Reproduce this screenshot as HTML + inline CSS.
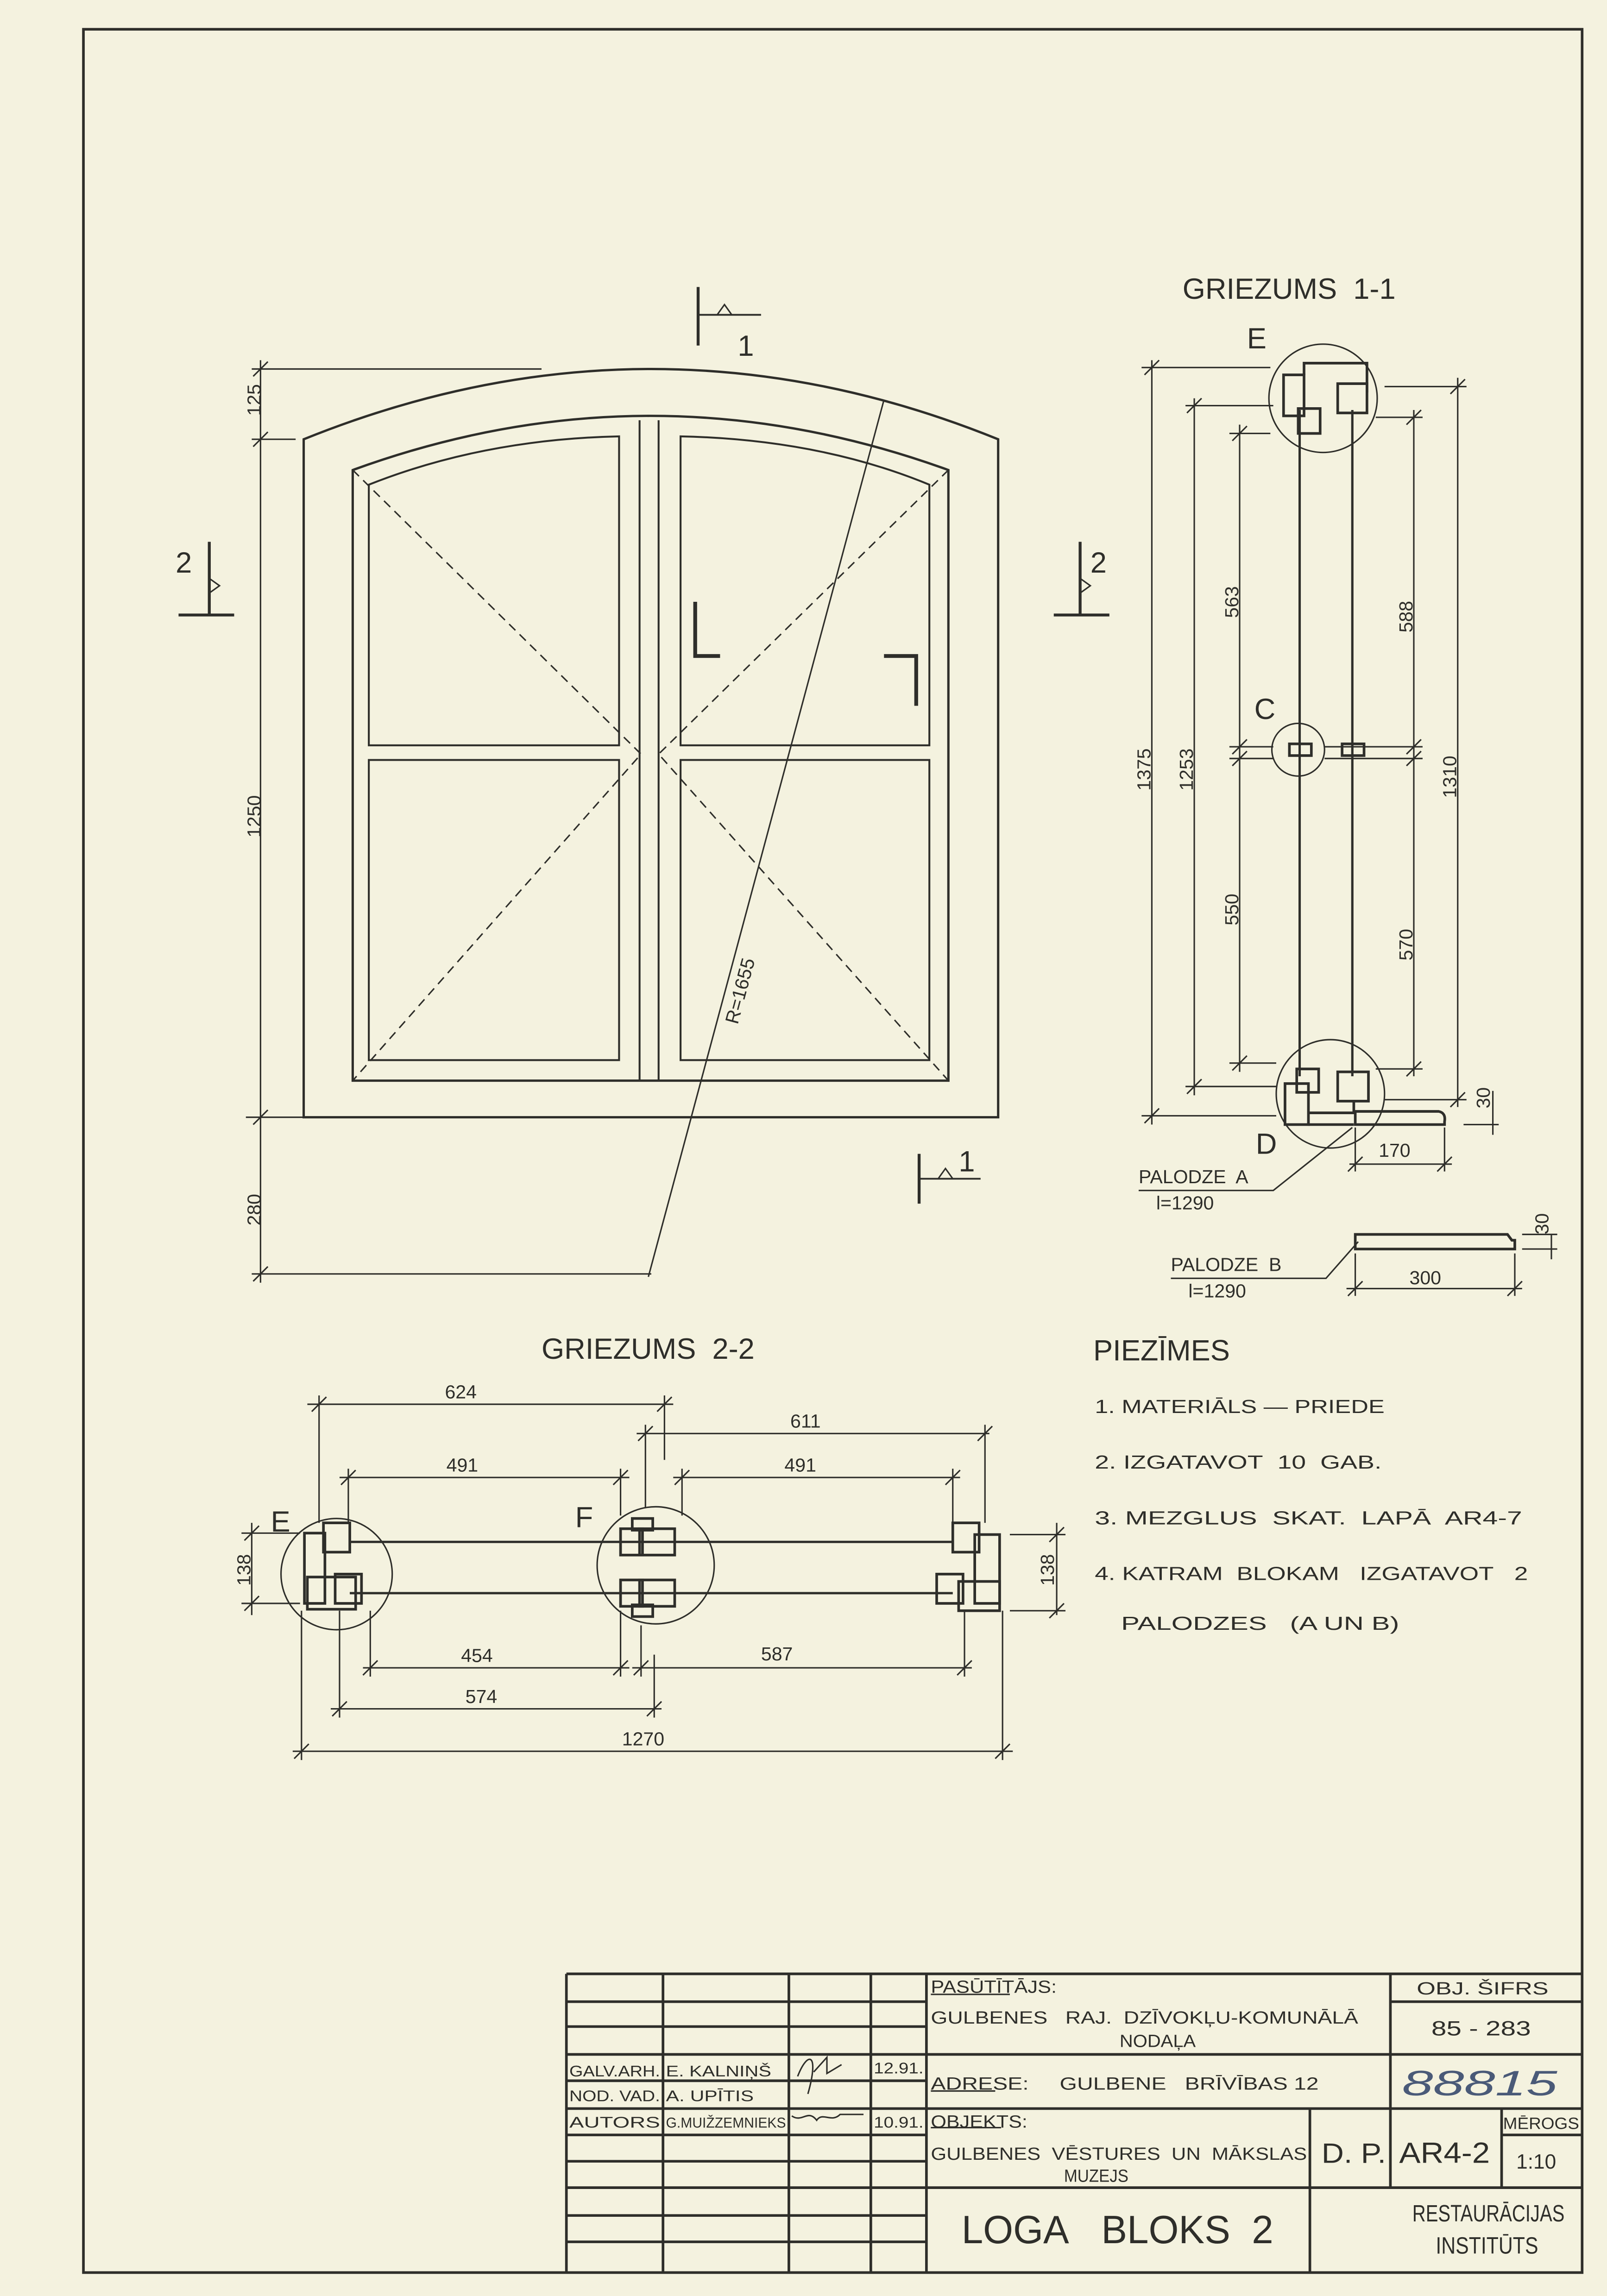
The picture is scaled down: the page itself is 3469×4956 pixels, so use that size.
<!DOCTYPE html>
<html><head><meta charset="utf-8"><style>
html,body{margin:0;padding:0;background:#f4f2df;}
svg{display:block}
text{font-family:"Liberation Sans",sans-serif;fill:#2e2e2a}
</style></head><body>
<svg width="3469" height="4956" viewBox="0 0 1098 1568" preserveAspectRatio="none" xmlns="http://www.w3.org/2000/svg">
<rect x="0" y="0" width="1098" height="1568" fill="#f4f2df"/>
<g stroke="#2e2e2a" fill="none" stroke-width="1.3">
<rect x="57" y="20" width="1024" height="1532" stroke-width="1.8"/>

<path d="M207.5 763 V300 Q445 204 682 300 V763 Z" stroke-width="1.6"/>
<path d="M241 738 V321 Q444 247 648 321 V738 Z" stroke-width="1.6"/>
<line x1="437" y1="287" x2="437" y2="738"/>
<line x1="450" y1="287" x2="450" y2="738"/>
<path d="M252 509 V331 Q330 300 423 298 V509 Z"/>
<path d="M252 724 V519 H423 V724 Z"/>
<path d="M465 509 V298 Q560 300 635 331 V509 Z"/>
<path d="M465 724 V519 H635 V724 Z"/>
<g stroke-dasharray="6,4" stroke-width="1">
<polyline points="241,321 438,515 241,738"/>
<polyline points="648,321 450,515 648,738"/>
</g>
<line x1="604" y1="273" x2="443" y2="872" stroke-width="1"/>
<polyline points="475,411 475,448 492,448" stroke-width="2.6"/>
<polyline points="604,448 626,448 626,482" stroke-width="2.6"/>
<line x1="178" y1="246" x2="178" y2="876" stroke-width="1"/>
<line x1="172" y1="252" x2="370" y2="252" stroke-width="1"/>
<line x1="172" y1="300" x2="202" y2="300" stroke-width="1"/>
<line x1="168" y1="763" x2="207" y2="763" stroke-width="1"/>
<line x1="172" y1="870" x2="445" y2="870" stroke-width="1"/>
<g stroke-width="1"><line x1="173" y1="257" x2="183" y2="247"/><line x1="173" y1="305" x2="183" y2="295"/><line x1="173" y1="768" x2="183" y2="758"/><line x1="173" y1="875" x2="183" y2="865"/></g>
<g stroke-width="2">
<line x1="477" y1="196" x2="477" y2="236"/><line x1="477" y1="215" x2="520" y2="215" stroke-width="1.2"/>
<line x1="143" y1="370" x2="143" y2="420"/><line x1="122" y1="420" x2="160" y2="420"/>
<line x1="738" y1="370" x2="738" y2="420"/><line x1="720" y1="420" x2="758" y2="420"/>
<line x1="628" y1="788" x2="628" y2="822"/><line x1="628" y1="805" x2="670" y2="805" stroke-width="1.2"/>
</g>
<g stroke-width="1"><path d="M495 208 L500 215 L490 215 Z" /><path d="M143 395 L150 400 L143 405" /><path d="M738 395 L745 400 L738 405"/><path d="M646 798 L651 805 L641 805Z"/></g>

<line x1="888" y1="280" x2="888" y2="735" stroke-width="1.6"/>
<line x1="924" y1="280" x2="924" y2="735" stroke-width="1.6"/>
<circle cx="904" cy="272" r="37" stroke-width="1"/>
<circle cx="887" cy="512" r="18" stroke-width="1"/>
<circle cx="909" cy="747" r="37" stroke-width="1"/>
<g stroke-width="1.8">
<rect x="877" y="256" width="14" height="28"/><rect x="887" y="279" width="15" height="17"/>
<polyline points="891,256 891,248 934,248 934,268"/><rect x="914" y="262" width="20" height="20"/>
<rect x="881" y="508" width="15" height="8"/><rect x="917" y="508" width="15" height="8"/>
<rect x="886" y="730" width="15" height="16"/><rect x="878" y="740" width="16" height="28"/>
<polyline points="894,760 925,760 925,752"/><polyline points="894,768 925,768"/>
<rect x="914" y="732" width="21" height="20"/>
<path d="M926 759 H983 Q988 760 987 766 V768 H926 Z"/>
<path d="M926 843 H1030 L1033 847 H1035 V853 H926 Z"/>
</g>
<g stroke-width="1">
<line x1="787" y1="246" x2="787" y2="768"/><line x1="780" y1="251" x2="868" y2="251"/><line x1="780" y1="762" x2="872" y2="762"/>
<line x1="816" y1="272" x2="816" y2="748"/><line x1="810" y1="277" x2="870" y2="277"/><line x1="810" y1="742" x2="872" y2="742"/>
<line x1="847" y1="290" x2="847" y2="732"/><line x1="840" y1="296" x2="868" y2="296"/><line x1="840" y1="510" x2="870" y2="510"/><line x1="840" y1="518" x2="870" y2="518"/><line x1="840" y1="726" x2="872" y2="726"/>
<line x1="966" y1="280" x2="966" y2="735"/><line x1="940" y1="285" x2="972" y2="285"/><line x1="905" y1="510" x2="972" y2="510"/><line x1="905" y1="518" x2="972" y2="518"/><line x1="940" y1="730" x2="972" y2="730"/>
<line x1="996" y1="258" x2="996" y2="756"/><line x1="946" y1="264" x2="1002" y2="264"/><line x1="946" y1="751" x2="1002" y2="751"/>
<line x1="1020" y1="745" x2="1020" y2="775"/><line x1="1000" y1="768" x2="1024" y2="768"/>
<line x1="926" y1="770" x2="926" y2="800"/><line x1="987" y1="770" x2="987" y2="800"/><line x1="922" y1="795" x2="992" y2="795"/>
<line x1="920" y1="880" x2="1040" y2="880"/><line x1="926" y1="856" x2="926" y2="885"/><line x1="1035" y1="856" x2="1035" y2="885"/>
<line x1="1060" y1="843" x2="1060" y2="860"/><line x1="1040" y1="843" x2="1064" y2="843"/><line x1="1040" y1="853" x2="1064" y2="853"/>
<polyline points="778,813 870,813 924,770"/>
<polyline points="800,873 906,873 928,848"/>
</g>
<g stroke-width="1"><line x1="782" y1="256" x2="792" y2="246"/><line x1="782" y1="767" x2="792" y2="757"/><line x1="811" y1="282" x2="821" y2="272"/><line x1="811" y1="747" x2="821" y2="737"/><line x1="842" y1="301" x2="852" y2="291"/><line x1="842" y1="515" x2="852" y2="505"/><line x1="842" y1="523" x2="852" y2="513"/><line x1="842" y1="731" x2="852" y2="721"/><line x1="961" y1="290" x2="971" y2="280"/><line x1="961" y1="515" x2="971" y2="505"/><line x1="961" y1="523" x2="971" y2="513"/><line x1="961" y1="735" x2="971" y2="725"/><line x1="991" y1="269" x2="1001" y2="259"/><line x1="991" y1="756" x2="1001" y2="746"/><line x1="921" y1="800" x2="931" y2="790"/><line x1="982" y1="800" x2="992" y2="790"/><line x1="921" y1="885" x2="931" y2="875"/><line x1="1030" y1="885" x2="1040" y2="875"/></g>

<line x1="239" y1="1053" x2="651" y2="1053" stroke-width="1.6"/>
<line x1="239" y1="1088" x2="651" y2="1088" stroke-width="1.6"/>
<circle cx="230" cy="1075" r="38" stroke-width="1"/>
<circle cx="448" cy="1069" r="40" stroke-width="1"/>
<g stroke-width="1.8">
<rect x="208" y="1047" width="14" height="48"/><rect x="221" y="1040" width="18" height="20"/><rect x="210" y="1077" width="33" height="22"/><rect x="229" y="1075" width="18" height="20"/>
<rect x="424" y="1044" width="15" height="18"/><rect x="437" y="1044" width="24" height="18"/><rect x="432" y="1037" width="14" height="8"/>
<rect x="424" y="1079" width="15" height="18"/><rect x="437" y="1079" width="24" height="18"/><rect x="432" y="1096" width="14" height="8"/>
<rect x="651" y="1040" width="18" height="20"/><rect x="666" y="1048" width="17" height="47"/><rect x="640" y="1075" width="18" height="20"/><rect x="655" y="1080" width="28" height="20"/>
</g>
<g stroke-width="1">
<line x1="210" y1="959" x2="460" y2="959"/><line x1="218" y1="953" x2="218" y2="1040"/><line x1="454" y1="953" x2="454" y2="997"/>
<line x1="435" y1="979" x2="676" y2="979"/><line x1="441" y1="973" x2="441" y2="1030"/><line x1="673" y1="973" x2="673" y2="1040"/>
<line x1="232" y1="1009" x2="430" y2="1009"/><line x1="238" y1="1003" x2="238" y2="1040"/><line x1="424" y1="1003" x2="424" y2="1035"/>
<line x1="460" y1="1009" x2="656" y2="1009"/><line x1="466" y1="1003" x2="466" y2="1035"/><line x1="651" y1="1003" x2="651" y2="1040"/>
<line x1="248" y1="1139" x2="430" y2="1139"/><line x1="253" y1="1100" x2="253" y2="1145"/><line x1="424" y1="1100" x2="424" y2="1145"/>
<line x1="432" y1="1139" x2="664" y2="1139"/><line x1="438" y1="1110" x2="438" y2="1145"/><line x1="659" y1="1100" x2="659" y2="1145"/>
<line x1="226" y1="1167" x2="452" y2="1167"/><line x1="232" y1="1100" x2="232" y2="1173"/><line x1="447" y1="1130" x2="447" y2="1173"/>
<line x1="200" y1="1196" x2="692" y2="1196"/><line x1="206" y1="1100" x2="206" y2="1202"/><line x1="685" y1="1100" x2="685" y2="1202"/>
<line x1="172" y1="1040" x2="172" y2="1103"/><line x1="165" y1="1047" x2="205" y2="1047"/><line x1="165" y1="1095" x2="205" y2="1095"/>
<line x1="722" y1="1040" x2="722" y2="1103"/><line x1="690" y1="1048" x2="728" y2="1048"/><line x1="690" y1="1100" x2="728" y2="1100"/>
</g>
<g stroke-width="1"><line x1="213" y1="964" x2="223" y2="954"/><line x1="449" y1="964" x2="459" y2="954"/><line x1="436" y1="984" x2="446" y2="974"/><line x1="668" y1="984" x2="678" y2="974"/><line x1="233" y1="1014" x2="243" y2="1004"/><line x1="419" y1="1014" x2="429" y2="1004"/><line x1="461" y1="1014" x2="471" y2="1004"/><line x1="646" y1="1014" x2="656" y2="1004"/><line x1="248" y1="1144" x2="258" y2="1134"/><line x1="419" y1="1144" x2="429" y2="1134"/><line x1="433" y1="1144" x2="443" y2="1134"/><line x1="654" y1="1144" x2="664" y2="1134"/><line x1="227" y1="1172" x2="237" y2="1162"/><line x1="442" y1="1172" x2="452" y2="1162"/><line x1="201" y1="1201" x2="211" y2="1191"/><line x1="680" y1="1201" x2="690" y2="1191"/><line x1="167" y1="1052" x2="177" y2="1042"/><line x1="167" y1="1100" x2="177" y2="1090"/><line x1="717" y1="1053" x2="727" y2="1043"/><line x1="717" y1="1105" x2="727" y2="1095"/></g>

<g stroke-width="1.8">
<line x1="387" y1="1348" x2="1081" y2="1348"/>
<line x1="387" y1="1348" x2="387" y2="1552"/>
<line x1="453" y1="1348" x2="453" y2="1552"/><line x1="539" y1="1348" x2="539" y2="1552"/><line x1="595" y1="1348" x2="595" y2="1552"/><line x1="633" y1="1348" x2="633" y2="1552"/>
<line x1="387" y1="1367" x2="633" y2="1367"/><line x1="387" y1="1384" x2="633" y2="1384"/><line x1="387" y1="1403" x2="1081" y2="1403"/><line x1="387" y1="1421" x2="633" y2="1421"/><line x1="387" y1="1440" x2="1081" y2="1440"/><line x1="387" y1="1458" x2="633" y2="1458"/><line x1="387" y1="1476" x2="633" y2="1476"/><line x1="387" y1="1494" x2="1081" y2="1494"/><line x1="387" y1="1513" x2="633" y2="1513"/><line x1="387" y1="1531" x2="633" y2="1531"/>
<line x1="950" y1="1348" x2="950" y2="1494"/><line x1="950" y1="1367" x2="1081" y2="1367"/>
<line x1="895" y1="1440" x2="895" y2="1552"/><line x1="1026" y1="1440" x2="1026" y2="1494"/><line x1="1026" y1="1458" x2="1081" y2="1458"/>
</g>
<g stroke-width="1"><line x1="636" y1="1362" x2="690" y2="1362"/><line x1="636" y1="1428" x2="680" y2="1428"/><line x1="636" y1="1453" x2="684" y2="1453"/></g>
<path d="M545 1418 C552 1400 560 1402 552 1430 M556 1415 L565 1405 L565 1416 L575 1410" stroke-width="1"/>
<path d="M541 1445 C548 1450 552 1440 558 1448 C562 1442 568 1450 574 1444 L590 1444" stroke-width="1"/>
</g>

<g font-size="20">
<text x="808" y="204">GRIEZUMS&#160; 1-1</text>
<text x="370" y="928">GRIEZUMS&#160; 2-2</text>
<text x="747" y="929">PIEZĪMES</text>
<text x="852" y="238">E</text><text x="857" y="491">C</text><text x="858" y="788">D</text>
<text x="185" y="1046">E</text><text x="393" y="1043">F</text>
<text x="504" y="243">1</text><text x="120" y="391">2</text><text x="745" y="391">2</text><text x="655" y="800">1</text>
</g>
<g font-size="13">
<text transform="translate(178,284) rotate(-90)">125</text>
<text transform="translate(178,572) rotate(-90)">1250</text>
<text transform="translate(178,837) rotate(-90)">280</text>
<text transform="translate(504,700) rotate(-75)">R=1655</text>
<text transform="translate(786,540) rotate(-90)">1375</text>
<text transform="translate(815,540) rotate(-90)">1253</text>
<text transform="translate(846,422) rotate(-90)">563</text>
<text transform="translate(846,632) rotate(-90)">550</text>
<text transform="translate(965,432) rotate(-90)">588</text>
<text transform="translate(965,656) rotate(-90)">570</text>
<text transform="translate(995,545) rotate(-90)">1310</text>
<text transform="translate(1018,757) rotate(-90)">30</text>
<text transform="translate(1058,843) rotate(-90)">30</text>
<text x="942" y="790">170</text><text x="963" y="877">300</text>
<text x="778" y="808">PALODZE&#160; A</text><text x="790" y="826">l=1290</text>
<text x="800" y="868">PALODZE&#160; B</text><text x="812" y="886">l=1290</text>
<text x="304" y="955">624</text><text x="540" y="975">611</text><text x="305" y="1005">491</text><text x="536" y="1005">491</text>
<text x="315" y="1135">454</text><text x="520" y="1134">587</text><text x="318" y="1163">574</text><text x="425" y="1192">1270</text>
<text transform="translate(171,1083) rotate(-90)">138</text>
<text transform="translate(720,1083) rotate(-90)">138</text>
<text x="748" y="965" textLength="198" lengthAdjust="spacingAndGlyphs">1. MATERIĀLS — PRIEDE</text>
<text x="748" y="1003" textLength="196" lengthAdjust="spacingAndGlyphs">2. IZGATAVOT&#160; 10&#160; GAB.</text>
<text x="748" y="1041" textLength="292" lengthAdjust="spacingAndGlyphs">3. MEZGLUS&#160; SKAT.&#160; LAPĀ&#160; AR4-7</text>
<text x="748" y="1079" textLength="296" lengthAdjust="spacingAndGlyphs">4. KATRAM&#160; BLOKAM&#160;&#160; IZGATAVOT&#160;&#160; 2</text>
<text x="766" y="1113" textLength="190" lengthAdjust="spacingAndGlyphs">PALODZES&#160;&#160; (A UN B)</text>
</g>
<g font-size="12">
<text x="636" y="1361" textLength="86" lengthAdjust="spacingAndGlyphs">PASŪTĪTĀJS:</text>
<text x="636" y="1382" textLength="292" lengthAdjust="spacingAndGlyphs">GULBENES&#160;&#160; RAJ.&#160; DZĪVOKĻU-KOMUNĀLĀ</text>
<text x="765" y="1398" textLength="52" lengthAdjust="spacingAndGlyphs">NODAĻA</text>
<text x="636" y="1427" textLength="265" lengthAdjust="spacingAndGlyphs">ADRESE:&#160;&#160;&#160;&#160; GULBENE&#160;&#160; BRĪVĪBAS 12</text>
<text x="636" y="1453" textLength="66" lengthAdjust="spacingAndGlyphs">OBJEKTS:</text>
<text x="636" y="1475" textLength="257" lengthAdjust="spacingAndGlyphs">GULBENES&#160; VĒSTURES&#160; UN&#160; MĀKSLAS</text>
<text x="727" y="1490" textLength="44" lengthAdjust="spacingAndGlyphs">MUZEJS</text>
<text x="968" y="1362" textLength="90" lengthAdjust="spacingAndGlyphs">OBJ. ŠIFRS</text>
<text x="978" y="1390" font-size="14" textLength="68" lengthAdjust="spacingAndGlyphs">85 - 283</text>
<text x="1027" y="1454" font-size="11" textLength="52" lengthAdjust="spacingAndGlyphs">MĒROGS</text>
<text x="1036" y="1481" font-size="14">1:10</text>
<text x="389" y="1418" font-size="10.5" textLength="62" lengthAdjust="spacingAndGlyphs">GALV.ARH.</text><text x="455" y="1418" font-size="10.5" textLength="72" lengthAdjust="spacingAndGlyphs">E. KALNIŅŠ</text><text x="597" y="1416" font-size="10.5" textLength="34" lengthAdjust="spacingAndGlyphs">12.91.</text>
<text x="389" y="1435" font-size="10.5" textLength="62" lengthAdjust="spacingAndGlyphs">NOD. VAD.</text><text x="455" y="1435" font-size="10.5" textLength="60" lengthAdjust="spacingAndGlyphs">A. UPĪTIS</text>
<text x="389" y="1453" font-size="10.5" textLength="62" lengthAdjust="spacingAndGlyphs">AUTORS</text><text x="455" y="1453" font-size="10" textLength="82" lengthAdjust="spacingAndGlyphs">G.MUIŽZEMNIEKS</text><text x="597" y="1453" font-size="10.5" textLength="34" lengthAdjust="spacingAndGlyphs">10.91.</text>
</g>
<text x="958" y="1431" font-size="24" font-style="italic" style="fill:#4a5a78" textLength="106" lengthAdjust="spacingAndGlyphs">88815</text>
<text x="903" y="1477" font-size="19" textLength="44" lengthAdjust="spacingAndGlyphs">D. P.</text>
<text x="956" y="1477" font-size="20" textLength="62" lengthAdjust="spacingAndGlyphs">AR4-2</text>
<text x="657" y="1532" font-size="27" textLength="213" lengthAdjust="spacingAndGlyphs">LOGA&#160;&#160; BLOKS&#160; 2</text>
<text x="965" y="1517" font-size="16" textLength="104" lengthAdjust="spacingAndGlyphs">RESTAURĀCIJAS</text>
<text x="981" y="1539" font-size="16" textLength="70" lengthAdjust="spacingAndGlyphs">INSTITŪTS</text>
</svg>
</body></html>
